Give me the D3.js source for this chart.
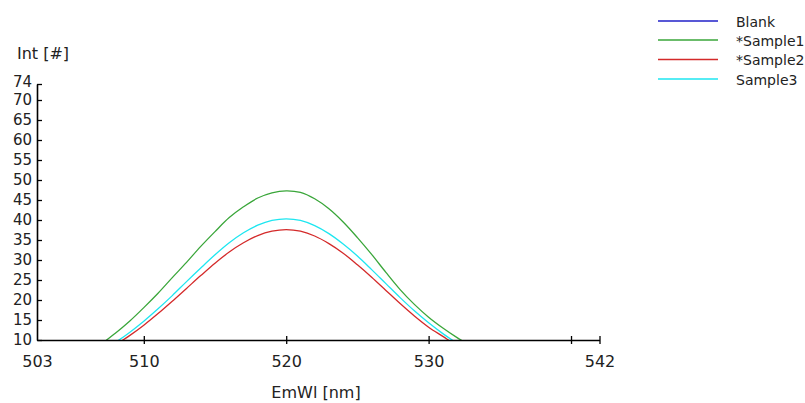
<!DOCTYPE html>
<html>
<head>
<meta charset="utf-8">
<script src="https://cdn.jsdelivr.net/npm/d3@7"></script>
<style>
  html, body { margin: 0; padding: 0; background: #ffffff; }
  svg { display: block; }
  text { font-family: "DejaVu Sans", sans-serif; fill: #222; }
</style>
</head>
<body>
<svg id="chart" width="805" height="403"></svg>
<script>
// ---- data ----
const wavelengths = [505,506,507,508,509,510,511,512,513,514,515,516,517,518,519,520,521,522,523,524,525,526,527,528,529,530,531,532,533,534,535];
const blank   = [1.2,1.2,1.3,1.2,1.2,1.3,1.3,1.2,1.3,1.3,1.4,1.3,1.4,1.4,1.4,1.4,1.4,1.4,1.3,1.4,1.3,1.3,1.3,1.2,1.3,1.2,1.2,1.2,1.2,1.1,1.2];
const sample1 = [5.3,7.0,9.0,11.7,14.7,18.1,21.7,25.6,29.4,33.4,37.1,40.6,43.3,45.5,46.8,47.3,46.9,45.3,42.8,39.5,35.6,31.4,26.9,22.6,18.9,15.7,13.0,10.6,8.5,6.6,5.0];
const sample2 = [3.9,5.2,6.8,8.8,11.1,13.7,16.6,19.7,22.9,26.1,29.2,32.0,34.3,36.1,37.2,37.6,37.2,36.0,34.1,31.7,28.8,25.7,22.4,19.1,16.0,13.2,10.9,8.6,6.6,5.0,3.8];
const sample3 = [4.2,5.6,7.3,9.4,11.9,14.7,17.8,21.1,24.6,28.0,31.3,34.3,36.8,38.7,39.9,40.3,39.9,38.6,36.6,34.0,31.0,27.6,24.1,20.6,17.3,14.3,11.6,9.2,7.1,5.5,4.1];
const seriesNames = ["Blank", "*Sample1", "*Sample2", "Sample3"];
const seriesColors = ["#2020c8", "#3aa63a", "#d42a2a", "#1ee6f0"];
const xDomain = [502.5, 542];
const yDomain = [10, 74];
const xTickValues = [502.5, 510, 520, 530, 540, 542];
const xTickLabels = ["503", "510", "520", "530", "", "542"];
const yTickValues = [10, 15, 20, 25, 30, 35, 40, 45, 50, 55, 60, 65, 70, 74];
const yTickLabels = ["10","15","20","25","30","35","40","45","50","55","60","65","70","74"];
const xTitle = "EmWl [nm]";
const yTitle = "Int [#]";

// ---- layout ----
const svg = d3.select("#chart");
const pLeft = 37, pRight = 599.5, pTop = 84, pBottom = 340;

const x = d3.scaleLinear().domain(xDomain).range([pLeft, pRight]);
const y = d3.scaleLinear().domain(yDomain).range([pBottom, pTop]);

const seriesValues = [blank, sample1, sample2, sample3];

svg.append("defs").append("clipPath").attr("id", "plotclip")
  .append("rect").attr("x", pLeft).attr("y", pTop - 2)
  .attr("width", pRight - pLeft).attr("height", pBottom - pTop + 2);

const line = d3.line()
  .x((d, i) => x(wavelengths[i]))
  .y(d => y(d))
  .curve(d3.curveCatmullRom);

const plot = svg.append("g").attr("clip-path", "url(#plotclip)");
seriesValues.forEach((vals, k) => {
  plot.append("path")
    .datum(vals)
    .attr("fill", "none")
    .attr("stroke", seriesColors[k])
    .attr("stroke-width", 1.3)
    .attr("d", line);
});

// ---- axes ----
const xAxis = d3.axisBottom(x)
  .tickValues(xTickValues)
  .tickFormat((d, i) => xTickLabels[i])
  .tickSizeInner(4).tickSizeOuter(0).tickPadding(12);
const gx = svg.append("g").attr("transform", `translate(0,${pBottom})`).call(xAxis);
gx.select(".domain").attr("stroke", "#000").attr("stroke-width", 1.6);
gx.selectAll(".tick line").attr("stroke", "#000").attr("stroke-width", 1.3).attr("y1", -4);
gx.selectAll(".tick text").attr("font-size", "16px").attr("fill", "#222")
  .attr("font-family", "DejaVu Sans, sans-serif");
gx.selectAll(".tick").filter(d => d === xDomain[0]).select("line").remove();

const yAxis = d3.axisLeft(y)
  .tickValues(yTickValues)
  .tickFormat((d, i) => yTickLabels[i])
  .tickSizeInner(3).tickSizeOuter(0).tickPadding(2);
const gy = svg.append("g").attr("transform", `translate(${pLeft},0)`).call(yAxis);
gy.select(".domain").attr("stroke", "#000").attr("stroke-width", 1.6);
gy.selectAll(".tick line").attr("stroke", "#000").attr("stroke-width", 1.3).attr("x2", 5);
gy.selectAll(".tick text").attr("font-size", "15px").attr("fill", "#222")
  .attr("font-family", "DejaVu Sans, sans-serif");
// the top label sits slightly higher so it does not collide with "70"
gy.selectAll(".tick").filter(d => d === yDomain[1]).select("text").attr("dy", "0.32em").attr("y", -2.5);

// ---- titles ----
svg.append("text").attr("x", 316).attr("y", 398).attr("text-anchor", "middle")
  .attr("font-size", "16px").text(xTitle);
svg.append("text").attr("x", 17).attr("y", 59).attr("text-anchor", "start")
  .attr("font-size", "16px").text(yTitle);

// ---- legend ----
const legendRows = [21, 40, 59.5, 79];
const lg = svg.append("g");
seriesNames.forEach((name, k) => {
  lg.append("line").attr("x1", 658).attr("x2", 718)
    .attr("y1", legendRows[k]).attr("y2", legendRows[k])
    .attr("stroke", seriesColors[k]).attr("stroke-width", 1.6);
  lg.append("text").attr("x", 736).attr("y", legendRows[k] + 5.5)
    .attr("font-size", "14px").text(name);
});
</script>
</body>
</html>
